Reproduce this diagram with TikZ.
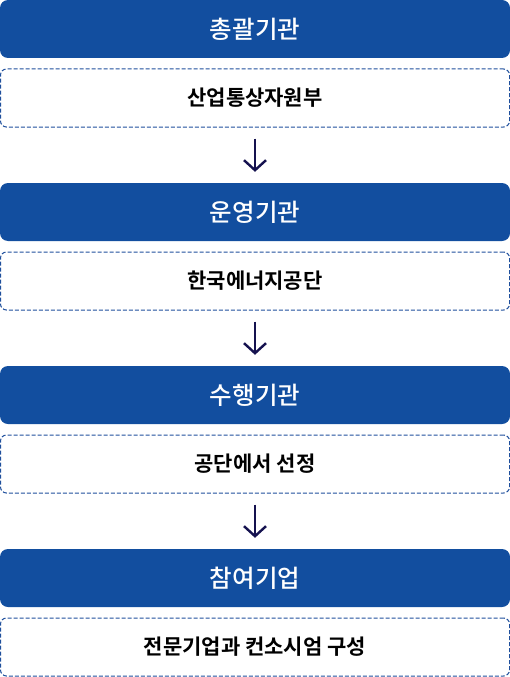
\documentclass[tikz,border=0pt]{standalone}
\usepackage{fontspec}
\setmainfont{Noto Sans CJK KR}[BoldFont={Noto Sans CJK KR Bold}]
\newfontfamily\medfont{Noto Sans CJK KR Medium}
\usetikzlibrary{arrows.meta}
\definecolor{hdblue}{HTML}{124E9F}
\definecolor{dashblue}{HTML}{1F4F9C}
\definecolor{arrnavy}{HTML}{15124F}
\tikzset{
  x=1pt, y=-1pt,
  header/.style={fill=hdblue, draw=none, rounded corners=8pt, minimum width=510pt, minimum height=58pt, inner sep=0pt, text=white, font=\medfont\fontsize{24.5}{28}\selectfont},
  body/.style={draw=dashblue, dash pattern=on 4pt off 2pt, line width=1pt, rounded corners=6pt, minimum width=509pt, minimum height=58pt, inner sep=0pt, text=black, font=\fontsize{21}{24}\selectfont\bfseries},
  flow/.style={draw=arrnavy, line width=2.4pt, -{Straight Barb[length=10pt,width=22pt,line width=2.4pt]}}
}
\begin{document}
\begin{tikzpicture}
\useasboundingbox (0,0) rectangle (510,677);
\node[header] (h1) at (255,29) {총괄기관};
\node[body] (b1) at (255,98) {산업통상자원부};
\node[header] (h2) at (255,212) {운영기관};
\node[body] (b2) at (255,281) {한국에너지공단};
\node[header] (h3) at (255,395) {수행기관};
\node[body] (b3) at (255,464) {공단에서 선정};
\node[header] (h4) at (255,578) {참여기업};
\node[body] (b4) at (255,647) {전문기업과 컨소시엄 구성};
\draw[flow] ([yshift=-11pt]b1.south) -- ([yshift=11pt]h2.north);
\draw[flow] ([yshift=-11pt]b2.south) -- ([yshift=11pt]h3.north);
\draw[flow] ([yshift=-11pt]b3.south) -- ([yshift=11pt]h4.north);
\end{tikzpicture}
\end{document}
